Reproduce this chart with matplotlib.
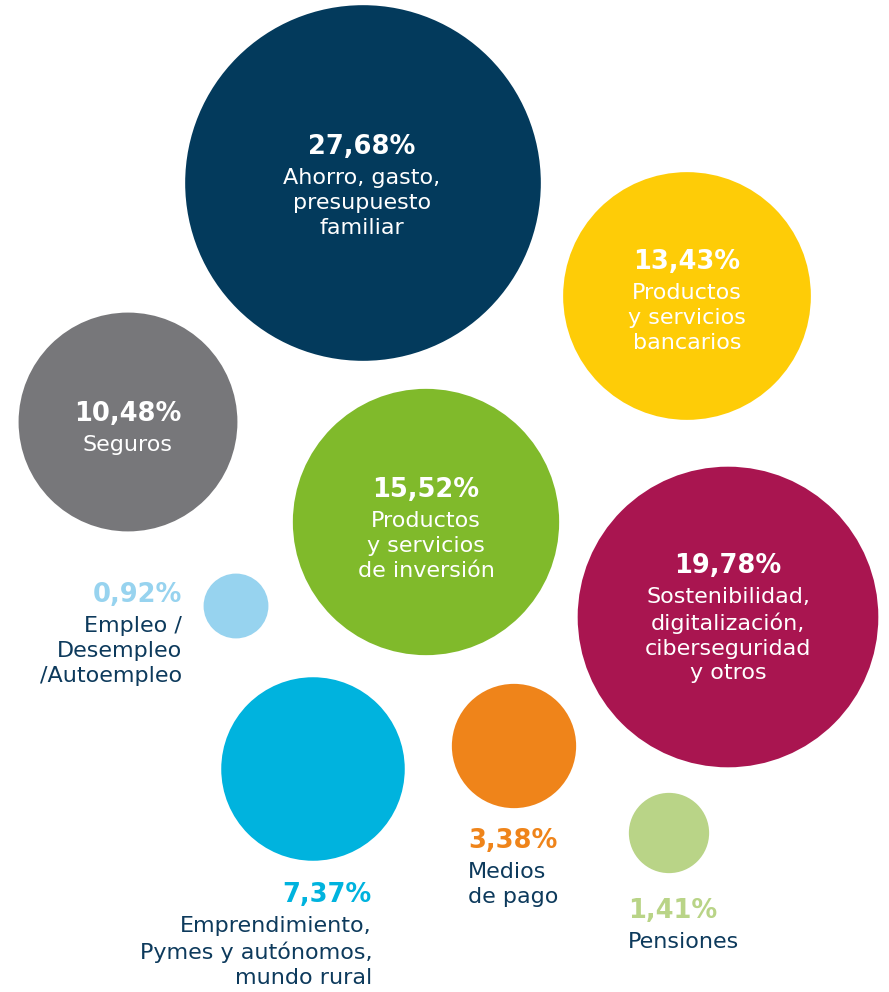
import matplotlib
matplotlib.use("Agg")
import matplotlib.pyplot as plt
from matplotlib.patches import Circle
import numpy as np

# ---- data ----
categories = [
    "Ahorro, gasto,\npresupuesto\nfamiliar",
    "Productos\ny servicios\nbancarios",
    "Seguros",
    "Productos\ny servicios\nde inversión",
    "Sostenibilidad,\ndigitalización,\nciberseguridad\ny otros",
    "Empleo /\nDesempleo\n/Autoempleo",
    "Emprendimiento,\nPymes y autónomos,\nmundo rural",
    "Medios\nde pago",
    "Pensiones",
]
values = [27.68, 13.43, 10.48, 15.52, 19.78, 0.92, 7.37, 3.38, 1.41]
pct_labels = ["27,68%", "13,43%", "10,48%", "15,52%", "19,78%",
              "0,92%", "7,37%", "3,38%", "1,41%"]

# ---- layout / style ----
colors = ["#033a5c", "#fecc07", "#77777a", "#80ba2b", "#a91550",
          "#97d3ef", "#00b3de", "#ef841a", "#b9d487"]
centers = [(363, 183), (687, 296), (128, 422), (426, 522), (728, 617),
           (236, 606), (313, 769), (514, 746), (669, 833)]
scale = 33.8  # pixels per sqrt(percent)

# label placement: (x, y of percent, alignment, inside?)
label_pos = [
    (362, 147, "center", True),
    (687, 262, "center", True),
    (128, 414, "center", True),
    (426, 490, "center", True),
    (728, 566, "center", True),
    (182, 595, "right", False),
    (372, 895, "right", False),
    (468, 841, "left", False),
    (628, 911, "left", False),
]
dark_text = "#0d3a5c"
FONT = "DejaVu Sans"

fig = plt.figure(figsize=(8.89, 9.92), dpi=100)
ax = fig.add_axes([0, 0, 1, 1])
ax.set_xlim(0, 889)
ax.set_ylim(992, 0)
ax.set_aspect("equal")
ax.axis("off")

for v, c, (cx, cy) in zip(values, colors, centers):
    ax.add_patch(Circle((cx, cy), scale * np.sqrt(v), facecolor=c, edgecolor="none"))

for cat, pct, c, (lx, ly, ha, inside) in zip(categories, pct_labels, colors, label_pos):
    pc = "white" if inside else c
    tc = "white" if inside else dark_text
    ax.text(lx, ly, pct, ha=ha, va="center", fontsize=18.5, fontweight="bold",
            color=pc, family=FONT)
    ax.text(lx, ly + 21, cat, ha=ha, va="top", fontsize=16, color=tc,
            family=FONT, linespacing=1.3, multialignment=ha)

fig.savefig("out.png", dpi=100)
